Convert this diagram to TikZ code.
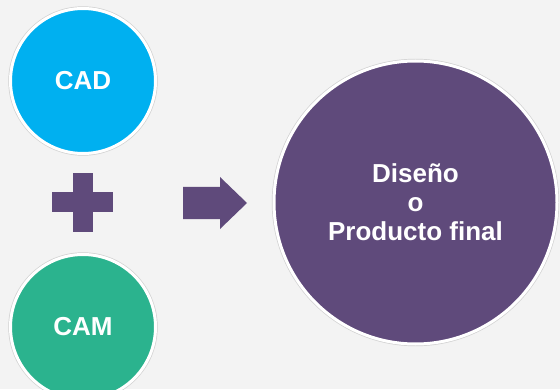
\documentclass[tikz,border=0pt]{standalone}
\usepackage{fontspec}
\setmainfont{Liberation Sans}
\usetikzlibrary{calc}
\definecolor{bgray}{HTML}{F3F3F3}
\definecolor{cadblue}{HTML}{00B0F0}
\definecolor{camgreen}{HTML}{2BB38E}
\definecolor{plum}{HTML}{5F4A7B}
\tikzset{
 disc/.style={circle,draw=white,line width=3pt,preaction={draw=black!18,line width=4.4pt},inner sep=0,text=white,font=\fontsize{26}{29}\selectfont\bfseries,align=center},
 smalldisc/.style={disc,minimum size=145pt},
 bigdisc/.style={disc,minimum size=283pt},
 sign/.style={fill=plum,draw=none}
}
\begin{document}
\begin{tikzpicture}[x=1pt,y=1pt]
\path[use as bounding box,fill=bgray] (0,0) rectangle (560,389);
\node[smalldisc,fill=cadblue] (cad) at (83,308) {CAD};
\node[smalldisc,fill=camgreen] (cam) at (83,62) {CAM};
\node[bigdisc,fill=plum] (final) at (415.5,186.5) {Diseño\\o\\Producto final};
% plus sign
\coordinate (plus) at (82.5,187);
\fill[sign] ($(plus)+(-10,-30)$) rectangle ($(plus)+(10,29)$);
\fill[sign] ($(plus)+(-30.5,-10)$) rectangle ($(plus)+(30.5,10)$);
% block arrow
\coordinate (tip) at (247,186);
\fill[sign] ($(tip)+(-64,-16)$) -- ($(tip)+(-27,-16)$) -- ($(tip)+(-27,-26)$) -- (tip)
 -- ($(tip)+(-27,26)$) -- ($(tip)+(-27,16)$) -- ($(tip)+(-64,16)$) -- cycle;
\end{tikzpicture}
\end{document}
